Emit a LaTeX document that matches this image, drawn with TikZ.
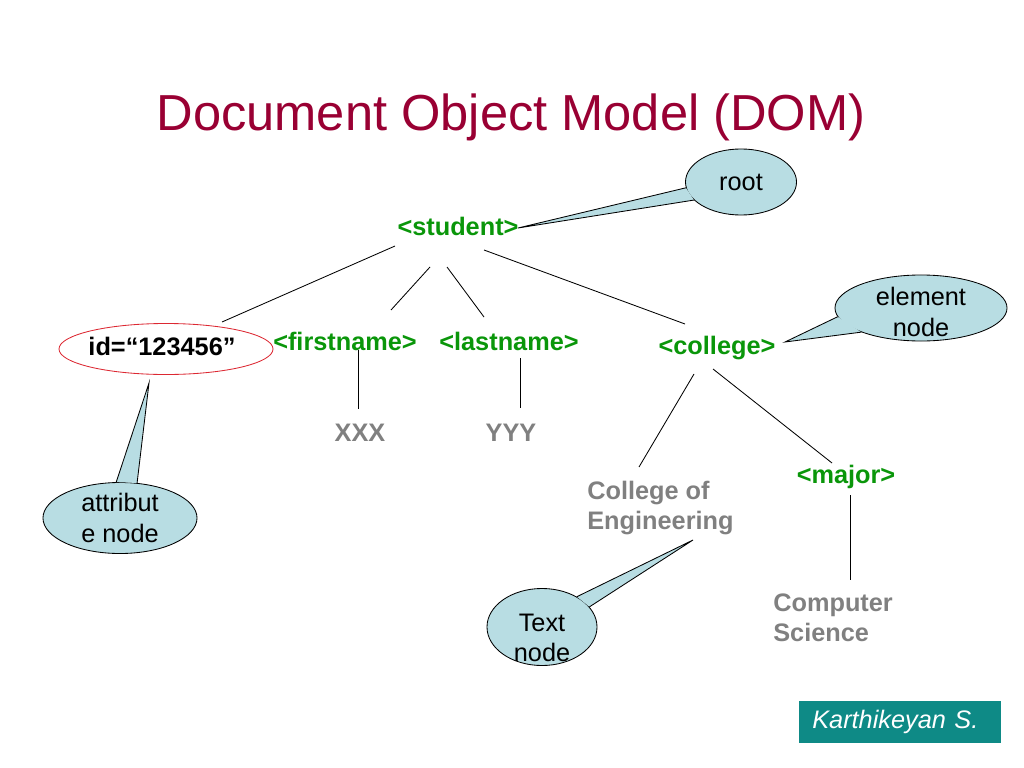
\documentclass[tikz,border=0pt]{standalone}
\usepackage{fontspec}
\setmainfont{Liberation Sans}
\usetikzlibrary{shapes.geometric}
\definecolor{titlec}{RGB}{153,0,51}
\definecolor{tagc}{RGB}{10,150,10}
\definecolor{leafc}{RGB}{128,128,128}
\definecolor{bubc}{RGB}{184,221,227}
\definecolor{attrc}{RGB}{220,40,50}
\definecolor{boxc}{RGB}{14,138,134}
\begin{document}
\begin{tikzpicture}[x=0.025cm,y=-0.025cm,
  every node/.style={inner sep=0pt},
  txt/.style={font=\fontsize{18}{21.6}\selectfont},
  tag/.style={txt,font=\fontsize{18}{21.6}\selectfont\bfseries,text=tagc,anchor=base},
  leaf/.style={txt,font=\fontsize{18}{21.6}\selectfont\bfseries,text=leafc},
  bubble/.style={ellipse,draw=black,fill=bubc,line width=0.6pt},
  btext/.style={txt,align=center,text=black},
  conn/.style={draw=black,line width=0.6pt}]
\useasboundingbox (0,0) rectangle (1024,768);

% title
\node[font=\fontsize{36}{43}\selectfont,text=titlec,anchor=base] (title) at (511,131) {Document Object Model (DOM)};

% tree nodes
\node[tag] (student) at (458,235) {<student>};
\node[ellipse,draw=attrc,line width=0.6pt,minimum width=5.35cm,minimum height=1.275cm] (id) at (166,349) {};
\node[font=\fontsize{18}{21.6}\selectfont\bfseries,text=black,anchor=base] (idt) at (162,355) {id=“123456”};
\node[tag] (firstname) at (345,350) {<firstname>};
\node[tag] (lastname) at (509,350) {<lastname>};
\node[tag] (college) at (717,354) {<college>};
\node[leaf,anchor=base] (xxx) at (360,441) {XXX};
\node[leaf,anchor=base] (yyy) at (511,441) {YYY};
\node[tag] (major) at (846,483) {<major>};
\node[leaf,align=left,anchor=west] (coe) at (587,508) {College of\\Engineering};
\node[leaf,align=left,anchor=west] (cs) at (773,618) {Computer\\Science};

% connectors
\draw[conn] ([shift={(-63,11)}]student.base) -- ([shift={(56,-27)}]id.center);
\draw[conn] ([shift={(-28,32)}]student.base) -- ([shift={(46,-40)}]firstname.base);
\draw[conn] ([shift={(-11,32)}]student.base) -- ([shift={(-25,-33)}]lastname.base);
\draw[conn] ([shift={(26,15)}]student.base) -- ([shift={(-32,-30)}]college.base);
\draw[conn] ([shift={(13,0)}]firstname.base) -- ([shift={(-2,-32)}]xxx.base);
\draw[conn] ([shift={(11,8)}]lastname.base) -- ([shift={(9,-33)}]yyy.base);
\draw[conn] ([shift={(-23,20)}]college.base) -- ([shift={(52,-41)}]coe.west);
\draw[conn] ([shift={(-4,15)}]college.base) -- ([shift={(-14,-20)}]major.base);
\draw[conn] ([shift={(4,12)}]major.base) -- ([shift={(77,-38)}]cs.west);

% callout bubbles
\node[bubble,minimum width=2.775cm,minimum height=1.65cm] (rootb) at (741,182) {};
\fill[bubc] (rootb.186) -- ([shift={(60,-7)}]student.base) -- (rootb.201) -- cycle;
\draw[conn] (rootb.186) -- ([shift={(60,-7)}]student.base) -- (rootb.201);
\node[btext,anchor=base] (roott) at (741,190) {root};

\node[bubble,minimum width=4.3cm,minimum height=1.65cm] (elemb) at (921,308) {};
\fill[bubc] (elemb.186) -- ([shift={(68,-12)}]college.base) -- (elemb.202) -- cycle;
\draw[conn] (elemb.186) -- ([shift={(68,-12)}]college.base) -- (elemb.202);
\node[btext] (elemt) at (921,312) {element\\node};

\node[bubble,minimum width=3.85cm,minimum height=1.775cm] (attrb) at (120,518) {};
\fill[bubc] (attrb.96) -- ([shift={(-17,34)}]id.center) -- (attrb.64) -- cycle;
\draw[conn] (attrb.96) -- ([shift={(-17,34)}]id.center) -- (attrb.64);
\node[btext] (attrt) at (120,518) {attribut\\e node};

\node[bubble,minimum width=2.75cm,minimum height=1.925cm] (textb) at (542,627) {};
\fill[bubc] (textb.41) -- ([shift={(106,32)}]coe.west) -- (textb.23) -- cycle;
\draw[conn] (textb.41) -- ([shift={(106,32)}]coe.west) -- (textb.23);
\node[btext] (textt) at (542,638) {Text\\node};

% author box
\node[fill=boxc,text=white,font=\fontsize{18}{21.6}\selectfont\itshape,
      inner xsep=0.325cm,text width=4.4cm,align=left,
      minimum height=1.05cm,anchor=west] (author) at (799,722) {Karthikeyan S.};
\end{tikzpicture}
\end{document}
